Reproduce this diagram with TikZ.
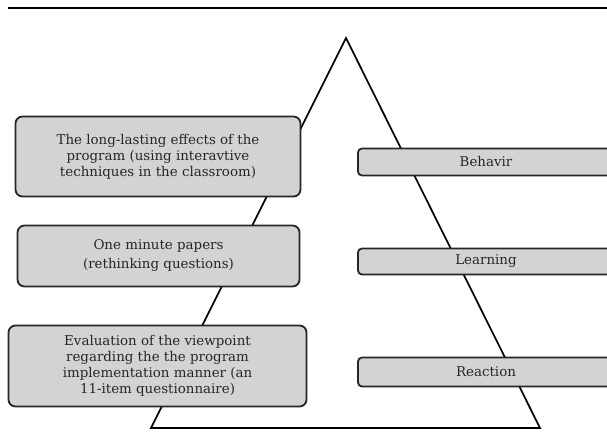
\documentclass[tikz,border=0pt]{standalone}
\usepackage{fontspec}
\setmainfont{DejaVu Serif}
\begin{document}
\begin{tikzpicture}[x=1pt,y=-1pt,
  box/.style={draw=black!85, line width=1.8pt, fill=boxgray, rounded corners=7pt,
    align=center, inner sep=0pt, font=\fontsize{13.4}{16}\selectfont, text=black!85},
  bar/.style={draw=black!85, line width=1.8pt, fill=boxgray, rounded corners=4pt,
    inner sep=0pt, font=\fontsize{13.4}{16}\selectfont, text=black!85}]
\definecolor{boxgray}{HTML}{D3D3D5}
\useasboundingbox (0,0) rectangle (607,431);
\clip (0,0) rectangle (607,431);
\draw[line width=1.5pt] (8,8) -- (607,8);
\coordinate (apex) at (346,38);
\coordinate (bl) at (151,428);
\coordinate (br) at (540,428);
\draw[line width=1.7pt, line join=miter] (bl) -- (apex) -- (br) -- cycle;
\node[box, minimum width=285pt, minimum height=80pt] (b1) at (158,156.5)
  {The long-lasting effects of the\\program (using interavtive\\techniques in the classroom)};
\node[box, minimum width=282pt, minimum height=61pt] (b2) at (158.5,256)
  {One minute papers\\[3pt](rethinking questions)};
\node[box, minimum width=298pt, minimum height=81pt] (b3) at (157.5,366)
  {Evaluation of the viewpoint\\regarding the the program\\implementation manner (an\\11-item questionnaire)};
\node[bar, minimum width=256pt, minimum height=27pt] (r1) at (486,162) {Behavir};
\node[bar, minimum width=256pt, minimum height=26pt] (r2) at (486,261.5) {Learning};
\node[bar, minimum width=256pt, minimum height=29pt] (r3) at (486,372) {Reaction};
\end{tikzpicture}
\end{document}
